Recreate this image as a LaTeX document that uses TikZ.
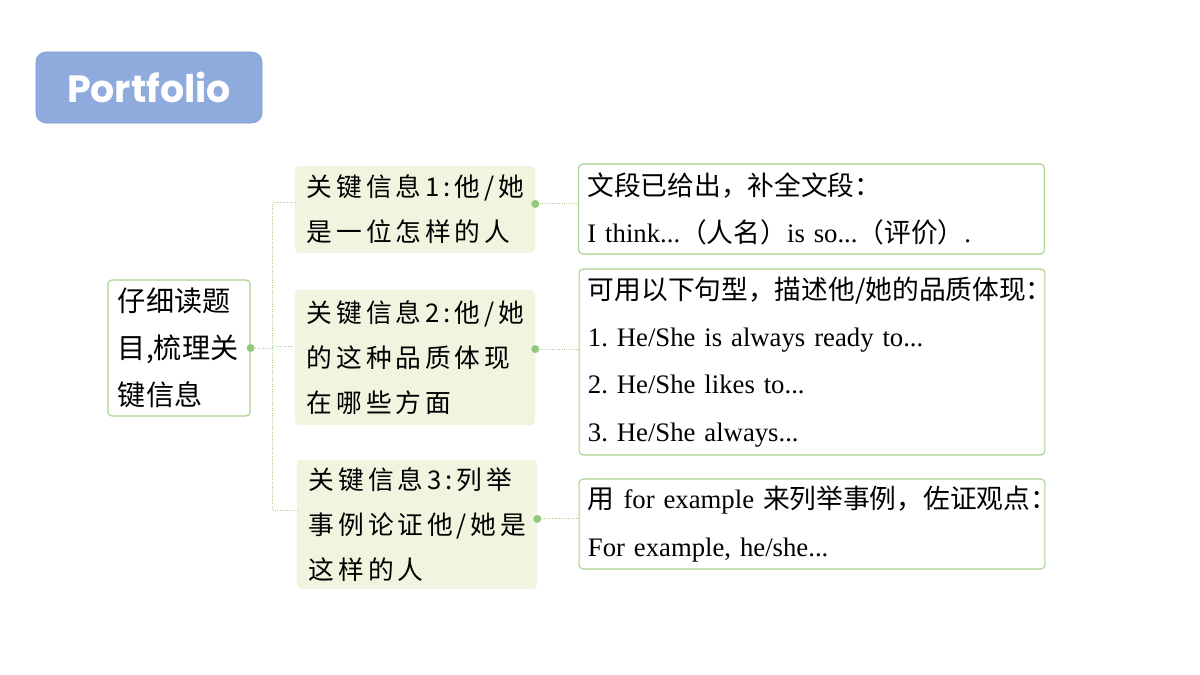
\documentclass[tikz,border=0pt]{standalone}
\usepackage{fontspec}
\setmainfont{Liberation Serif}
\newfontfamily\cjk{Noto Sans CJK SC}
\newfontfamily\cjkwide[LetterSpace=15]{Noto Sans CJK SC}
\newfontfamily\titlefont{Poppins}
\definecolor{titlefill}{HTML}{8FAADC}
\definecolor{titleline}{HTML}{7F9CD4}
\definecolor{boxline}{HTML}{A9D18E}
\definecolor{keyfill}{HTML}{F0F5E0}
\definecolor{dotgreen}{HTML}{95C77C}
\begin{document}
\begin{tikzpicture}[x=0.025cm,y=-0.025cm]
    \tikzstyle{title}=[draw=titleline,fill=titlefill,rounded corners=0.25cm,text=white,
        font=\titlefont\bfseries\fontsize{27}{30}\selectfont,minimum width=5.65cm,minimum height=1.775cm]
    \tikzstyle{rootbox}=[draw=boxline,fill=white,rounded corners=0.1cm,line width=0.8pt,align=left,
        inner xsep=0.25cm,text width=3.05cm,minimum height=3.4cm,font=\cjk\fontsize{20}{33.5}\selectfont]
    \tikzstyle{keybox}=[fill=keyfill,rounded corners=0.1cm,align=left,inner xsep=0.3cm,text width=5.4cm,
        font=\cjkwide\fontsize{18.3}{32}\selectfont]
    \tikzstyle{tipbox}=[draw=boxline,fill=white,rounded corners=0.1cm,line width=0.8pt,align=left,
        inner xsep=0.22cm,text width=11.2cm,font=\fontsize{19}{33.5}\selectfont]
    \tikzstyle{link}=[draw=boxline,densely dotted,line width=0.7pt]
    \tikzstyle{dot}=[fill=dotgreen]
    \useasboundingbox (0,0) rectangle (1200,675);
    \node[title] (title) at (149,87.5) {Portfolio};
    \node[rootbox] (root) at (179,348) {仔细读题\\目,梳理关\\键信息};
    \node[keybox,minimum height=2.175cm] (k1) at (415,209.5) {关键信息1:他/她\\是一位怎样的人};
    \node[keybox,minimum height=3.375cm] (k2) at (415,357.5) {关键信息2:他/她\\的这种品质体现\\在哪些方面};
    \node[keybox,minimum height=3.225cm] (k3) at (417,524.5) {关键信息3:列举\\事例论证他/她是\\这样的人};
    \node[tipbox,minimum height=2.25cm] (r1) at (811.5,209) {{\cjk 文段已给出，补全文段：}\\
        I think...{\cjk （人名）}is so...{\cjk （评价）}.};
    \node[tipbox,minimum height=4.65cm] (r2) at (812,362) {{\cjk 可用以下句型，描述他/她的品质体现：}\\
        1.\ He/She is always ready to...\\2.\ He/She likes to...\\3.\ He/She always...};
    \node[tipbox,minimum height=2.25cm] (r3) at (812,524) {\mbox{{\cjk 用}~for example~{\cjk 来列举事例，佐证观点：}}\\
        For example, he/she...};
    \coordinate (trunk) at ([xshift=0.55cm]root.east);
    \coordinate (b1) at ([yshift=0.17cm]k1.west);
    \coordinate (b2) at ([yshift=0.28cm]k2.west);
    \coordinate (b3) at ([yshift=0.35cm]k3.west);
    \coordinate (d1) at ([yshift=0.14cm]k1.east);
    \coordinate (d2) at ([yshift=0.21cm]k2.east);
    \coordinate (d3) at ([yshift=0.14cm]k3.east);
    \draw[link] (root.east) -- (trunk);
    \draw[link] (trunk) |- (b1);
    \draw[link] (trunk) |- (b2);
    \draw[link] (trunk) |- (b3);
    \draw[link] (d1) -- (d1 -| r1.west);
    \draw[link] (d2) -- (d2 -| r2.west);
    \draw[link] (d3) -- (d3 -| r3.west);
    \fill[dot] (root.east) circle (0.1cm);
    \fill[dot] (d1) circle (0.1cm);
    \fill[dot] (d2) circle (0.1cm);
    \fill[dot] (d3) circle (0.1cm);
\end{tikzpicture}
\end{document}
